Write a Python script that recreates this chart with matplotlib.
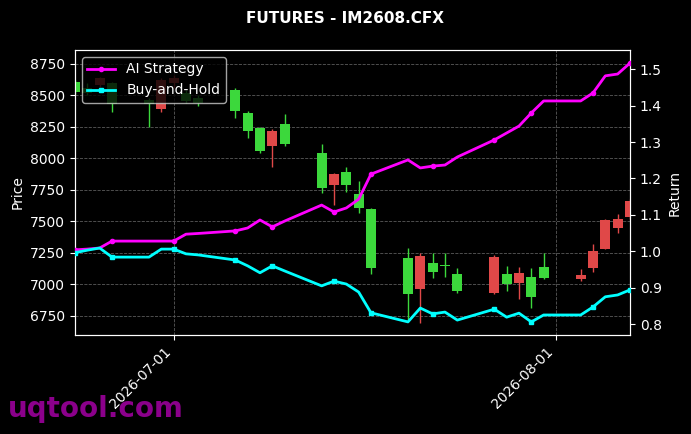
import matplotlib
matplotlib.use("Agg")
import matplotlib.pyplot as plt
import matplotlib.dates as mdates
import numpy as np
import pandas as pd

dates = ["2026-06-23", "2026-06-24", "2026-06-25", "2026-06-26", "2026-06-29", "2026-06-30",
         "2026-07-01", "2026-07-02", "2026-07-03", "2026-07-06", "2026-07-07", "2026-07-08",
         "2026-07-09", "2026-07-10", "2026-07-13", "2026-07-14", "2026-07-15", "2026-07-16",
         "2026-07-17", "2026-07-20", "2026-07-21", "2026-07-22", "2026-07-23", "2026-07-24",
         "2026-07-27", "2026-07-28", "2026-07-29", "2026-07-30", "2026-07-31", "2026-08-03",
         "2026-08-04", "2026-08-05", "2026-08-06", "2026-08-07"]

open_ = [8607, 8560, 8583, 8599, 8464, 8393, 8600, 8520, 8480, 8544, 8361, 8242,
         8099, 8274, 8044, 7790, 7893, 7718, 7599, 7210, 6964, 7171, 7155, 7083,
         6932, 7083, 7012, 7059, 7139, 7044, 7131, 7282, 7448, 7536]
high = [8620, 8600, 8650, 8610, 8480, 8640, 8660, 8540, 8500, 8560, 8377, 8250,
        8234, 8353, 8115, 7885, 7932, 7821, 7610, 7290, 7250, 7250, 7250, 7131,
        7230, 7147, 7139, 7131, 7250, 7123, 7321, 7520, 7559, 7680]
low = [8510, 8500, 8570, 8369, 8250, 8369, 8560, 8440, 8420, 8321, 8163, 8044,
       7932, 8099, 7726, 7631, 7734, 7567, 7083, 6718, 6694, 7052, 7060, 6932,
       6924, 6948, 6885, 6813, 7044, 7028, 7099, 7280, 7409, 7520]
close = [8528, 8520, 8639, 8433, 8433, 8623, 8640, 8460, 8440, 8377, 8218, 8060,
         8218, 8115, 7766, 7877, 7790, 7607, 7131, 6924, 7226, 7099, 7145, 6948,
         7218, 7004, 7091, 6901, 7052, 7075, 7266, 7512, 7520, 7663]

ai_strategy = [1.004, 1.006, 1.009, 1.028, 1.028, 1.028, 1.028, 1.047, 1.049, 1.056, 1.064, 1.086,
               1.067, 1.083, 1.127, 1.108, 1.119, 1.143, 1.212, 1.251, 1.229, 1.234, 1.237, 1.259,
               1.306, 1.325, 1.344, 1.380, 1.413, 1.413, 1.435, 1.482, 1.487, 1.517]
buy_hold = [0.996, 1.003, 1.009, 0.984, 0.984, 1.006, 1.006, 0.993, 0.990, 0.976, 0.960, 0.941,
            0.960, 0.946, 0.905, 0.918, 0.910, 0.888, 0.831, 0.806, 0.844, 0.828, 0.833, 0.811,
            0.841, 0.819, 0.830, 0.806, 0.825, 0.825, 0.847, 0.875, 0.880, 0.894]

dt = pd.to_datetime(dates)
x = mdates.date2num(dt)

fig = plt.figure(figsize=(6.91, 4.34), dpi=100, facecolor="black")
ax = fig.add_axes([0.1085, 0.2281, 0.8032, 0.6567])
ax.set_facecolor("black")

up_color = "#e04848"
down_color = "#3cd83c"
width = 0.8
for xi, o, h, l, c in zip(x, open_, high, low, close):
    col = up_color if c >= o else down_color
    ax.vlines(xi, l, h, color=col, linewidth=1.0, zorder=2)
    bottom = min(o, c)
    height = max(abs(c - o), 4)
    ax.bar(xi, height, width=width, bottom=bottom, color=col, zorder=3, linewidth=0)

ax.set_xlim(x[0], x[-1])
ax.set_ylim(6599, 8861)
ax.set_ylabel("Price", color="white")
ax.grid(True, color="#5a5a5a", linestyle="--", linewidth=0.6)
ax.set_yticks([6750, 7000, 7250, 7500, 7750, 8000, 8250, 8500, 8750])
ax.xaxis.set_major_locator(mdates.MonthLocator())
ax.xaxis.set_major_formatter(mdates.DateFormatter("%Y-%m-%d"))
for lab in ax.get_xticklabels():
    lab.set_rotation(45)
    lab.set_ha("right")
ax.tick_params(colors="white", labelsize=10)
for sp in ax.spines.values():
    sp.set_color("white")

ax2 = ax.twinx()
ax2.plot(x, ai_strategy, color="#ff00ff", linewidth=2, marker="o", markersize=3,
         markevery=3, label="AI Strategy", zorder=4)
ax2.plot(x, buy_hold, color="#00ffff", linewidth=2, marker="s", markersize=3,
         markevery=3, label="Buy-and-Hold", zorder=4)
ax2.set_ylim(0.770, 1.553)
ax2.set_ylabel("Return", color="white")
ax2.tick_params(colors="white", labelsize=10)
for sp in ax2.spines.values():
    sp.set_color("white")
ax2.set_xlim(x[0], x[-1])

leg = ax2.legend(loc="upper left", facecolor="black", edgecolor="#cccccc",
                 framealpha=0.8, fontsize=10)
for t in leg.get_texts():
    t.set_color("white")

fig.suptitle("FUTURES - IM2608.CFX", color="white", fontweight="bold", fontsize=11, y=0.975)
fig.text(0.012, 0.04, "uqtool.com", color="#8b008b", fontsize=20, fontweight="bold")

fig.savefig("out.png", dpi=100, facecolor="black")
